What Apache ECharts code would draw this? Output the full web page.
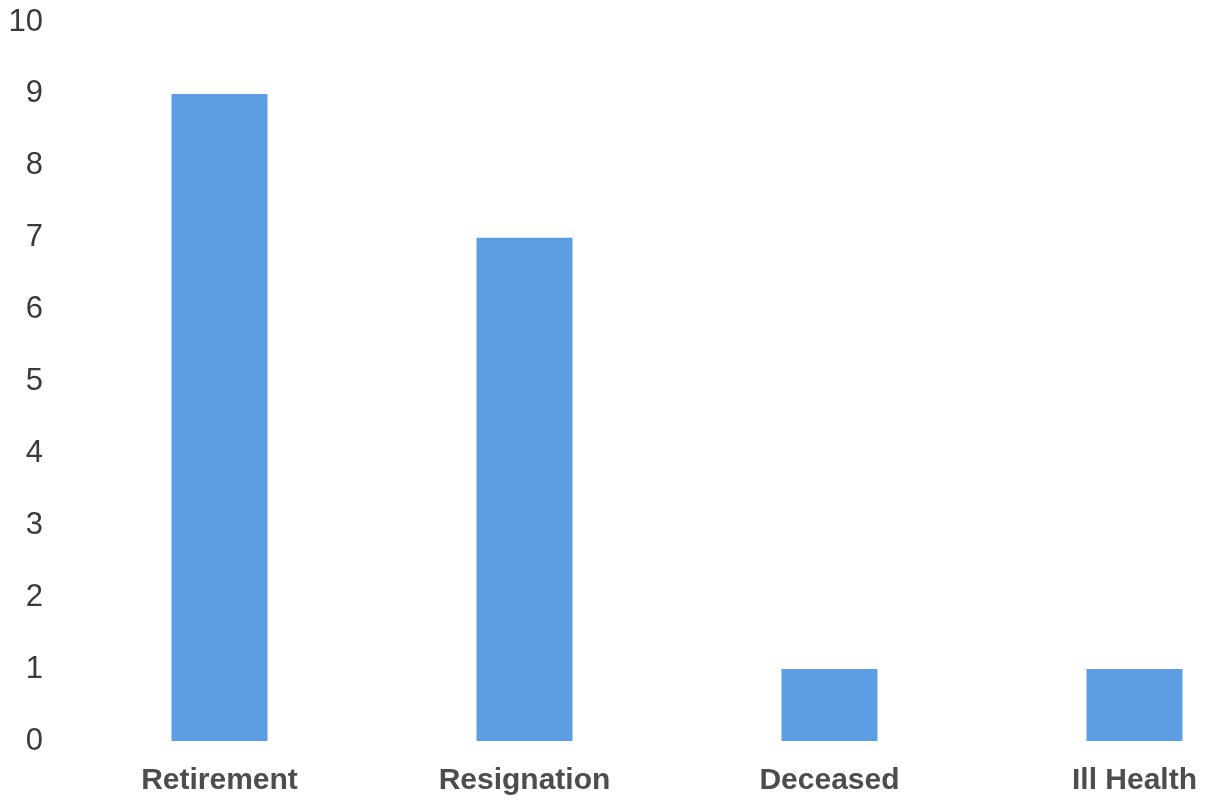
<!DOCTYPE html>
<html>
<head>
<meta charset="utf-8">
<script src="https://cdn.jsdelivr.net/npm/echarts@6/dist/echarts.min.js"></script>
<style>html,body{margin:0;padding:0;background:#fff;}#c{width:1206px;height:804px;}</style>
</head>
<body>
<div id="c"></div>
<script>
var categories = ["Retirement", "Resignation", "Deceased", "Ill Health"];
var values = [9, 7, 1, 1];
var yTicks = [0, 1, 2, 3, 4, 5, 6, 7, 8, 9, 10];

var chart = echarts.init(document.getElementById('c'));
chart.setOption({
  backgroundColor: '#ffffff',
  animation: false,
  grid: { left: 67, top: 22, width: 1220, height: 719, containLabel: false, outerBoundsMode: 'none' },
  xAxis: {
    type: 'category',
    data: categories,
    axisLine: { show: false },
    axisTick: { show: false },
    axisLabel: {
      margin: 25,
      fontFamily: 'Liberation Sans, Arial, sans-serif',
      fontWeight: 'bold',
      fontSize: 30,
      color: '#4d4d4d'
    }
  },
  yAxis: {
    type: 'value',
    min: yTicks[0],
    max: yTicks[yTicks.length - 1],
    interval: 1,
    axisLine: { show: false },
    axisTick: { show: false },
    splitLine: { show: false },
    axisLabel: {
      margin: 24,
      fontFamily: 'Liberation Sans, Arial, sans-serif',
      fontSize: 31,
      color: '#3a3a3a'
    }
  },
  series: [{
    type: 'bar',
    data: values,
    barWidth: 96,
    itemStyle: { color: '#5d9de3' }
  }]
});
</script>
</body>
</html>
